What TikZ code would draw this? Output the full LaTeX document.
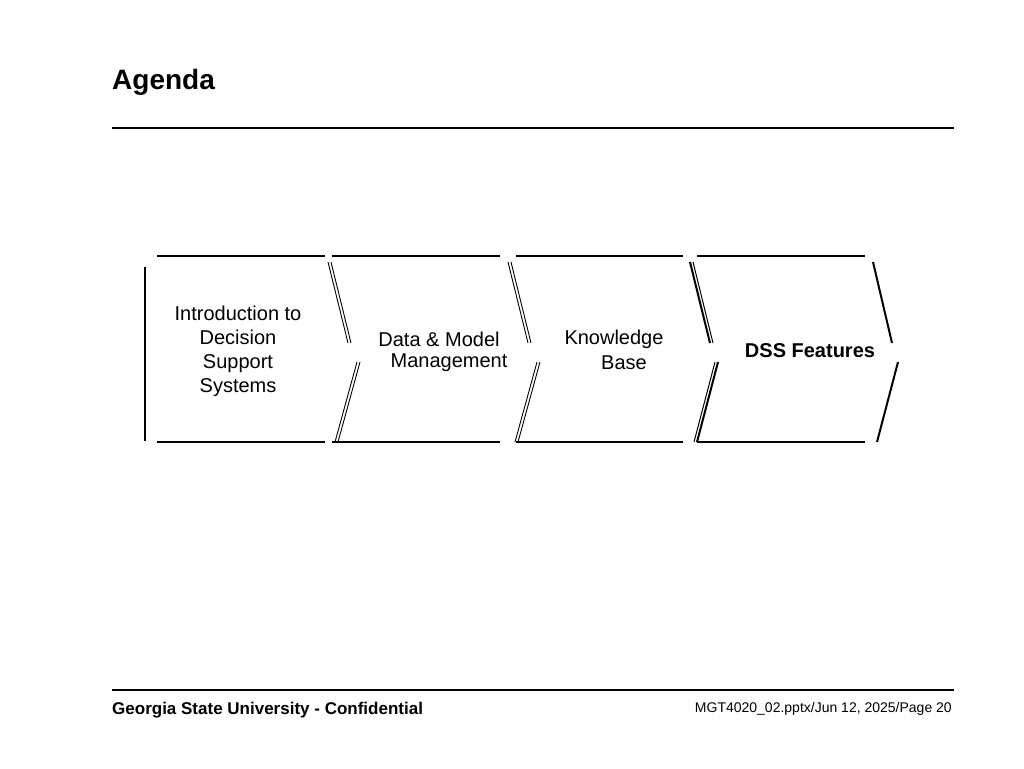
\documentclass[tikz,border=0pt]{standalone}
\usepackage{fontspec}
\setmainfont{Liberation Sans}
\begin{document}
\begin{tikzpicture}[x=1pt,y=-1pt,
  ln/.style={line width=1.2pt},
  thk/.style={line width=2pt},
  lbl/.style={font=\fontsize{20}{24}\selectfont,align=center,inner sep=0pt}]
\useasboundingbox (0,0) rectangle (1024,768);
\node[anchor=west,font=\bfseries\fontsize{28}{30}\selectfont,inner sep=0pt] (title) at (112,82) {Agenda};
\draw[ln] (112,128) -- (954,128);
\draw[ln] (112,690) -- (954,690);
\node[anchor=west,font=\bfseries\fontsize{17}{20}\selectfont,inner sep=0pt] (foot) at (112,710) {Georgia State University - Confidential};
\node[anchor=east,font=\fontsize{14}{17}\selectfont,inner sep=0pt] (page) at (952,709) {MGT4020\_02.pptx/Jun 12, 2025/Page 20};
% horizontal
\foreach \a/\b in {157/325,332/500,516/683}{
  \draw[ln] (\a,256) -- (\b,256); \draw[ln] (\a,442) -- (\b,442);}
\draw[thk] (697,256) -- (865,256); \draw[thk] (697,442) -- (865,442);
\draw[ln] (145,267) -- (145,441);
% double slants
\foreach \x in {328,508}{
  \draw[line width=0.9pt] (\x,262) -- (\x+20,343); \draw[line width=0.9pt] (\x+3,262) -- (\x+23,343);
  \draw[line width=0.9pt] (\x+29,362) -- (\x+7,442); \draw[line width=0.9pt] (\x+32,362) -- (\x+10,442);}
\draw[thk] (690,262) -- (710,343); \draw[line width=1pt] (693,262) -- (713,343);
\draw[thk] (718,362) -- (697,442); \draw[line width=1pt] (715,362) -- (694,442);
\draw[thk] (873,262) -- (892,343);
\draw[thk] (898,362) -- (877,442);
\node[lbl] (n1) at (238,351) {Introduction to\\Decision\\Support\\Systems};
\node[lbl] (n2a) at (439,339) {Data \& Model};
\node[lbl] (n2b) at (449,363) {Management};
\node[lbl] (n3a) at (614,339) {Knowledge};
\node[lbl] (n3b) at (624,363) {Base};
\node[lbl,font=\bfseries\fontsize{20}{24}\selectfont] (n4) at (810,351) {DSS Features};
\end{tikzpicture}
\end{document}
